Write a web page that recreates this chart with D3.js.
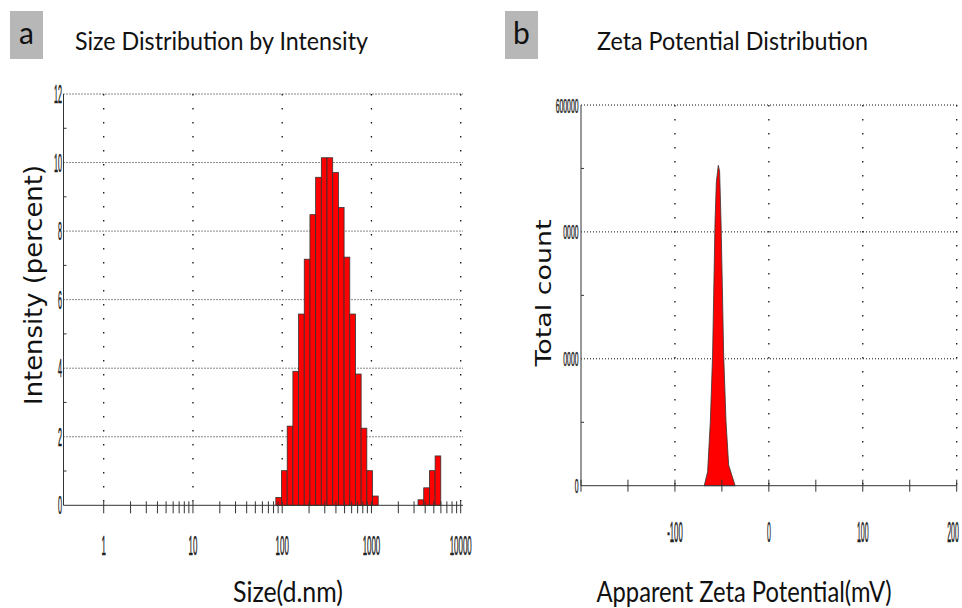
<!DOCTYPE html>
<html>
<head>
<meta charset="utf-8">
<script src="https://cdn.jsdelivr.net/npm/d3@7"></script>
<style>
  body { margin: 0; background: #fff; }
  svg { display: block; }
</style>
</head>
<body>
<svg width="962" height="608"></svg>
<script>
// panel a: size distribution (Malvern bins, d.nm) and intensity (%)
const sizes = [91.28, 105.7, 122.4, 141.8, 164.2, 190.1, 220.2, 255.0, 295.3, 342.0, 396.1,
  458.7, 531.2, 615.1, 712.4, 825.0, 955.4, 1106, 3580, 4145, 4801, 5560];
const intensity = [0.23, 1.01, 2.31, 3.91, 5.58, 7.18, 8.48, 9.57, 10.14, 10.14, 9.71,
  8.69, 7.24, 5.58, 3.83, 2.25, 1.01, 0.27, 0.16, 0.51, 1.01, 1.44];
const sizeTicks = [1, 10, 100, 1000, 10000];
const intensityTicks = [0, 2, 4, 6, 8, 10, 12];

// panel b: zeta potential (mV) and total count
const zetaMv = [-68.8, -65.2, -62.3, -59.9, -57.3, -55.9, -53.8, -52.4, -50.9, -48.1, -45.6, -42.8, -35.9];
const zetaCount = [0, 22000, 101000, 206000, 416000, 479000, 505000, 495000, 416000, 206000, 101000, 32600, 0];
const zetaTicks = [-100, 0, 100, 200];
const countTicks = [0, 200000, 400000, 600000];
const countLabels = ["0", "0000", "0000", "600000"];

const svg = d3.select("svg");
const axisColor = "#333";
const tickFont = "'Liberation Sans Narrow', 'Liberation Sans', sans-serif";
const textFont = "Lato, 'Open Sans', sans-serif";

// squeezed, slightly heavy tick labels like the instrument export.
// the squeeze is a real x-scale so the box of the text stays honest
function tickText(sel, size, charW) {
  sel.attr("font-family", tickFont).attr("font-size", size)
    .attr("fill", "#222").attr("stroke", "#222").attr("stroke-width", 0.5)
    .each(function () {
      const t = d3.select(this);
      const x = +t.attr("x"), y = +t.attr("y");
      const sx = this.textContent.length * charW / this.getComputedTextLength();
      t.attr("x", 0).attr("y", 0)
        .attr("transform", `translate(${x},${y}) scale(${sx},1)`);
    });
}

// ---------- panel a ----------
const xa = d3.scaleLog().domain([0.3544, 10612]).range([63.5, 463]);
const ya = d3.scaleLinear().domain([0, 12]).range([505.3, 94]);
const ga = svg.append("g");

// dotted grid
ga.selectAll(".hgrid").data(intensityTicks.slice(1)).join("line")
  .attr("x1", xa.range()[0]).attr("x2", xa.range()[1])
  .attr("y1", d => ya(d)).attr("y2", d => ya(d))
  .attr("stroke", "#111").attr("stroke-width", 1).attr("stroke-dasharray", "1,2");
ga.selectAll(".vgrid").data(sizeTicks).join("line")
  .attr("x1", d => xa(d)).attr("x2", d => xa(d))
  .attr("y1", ya(12)).attr("y2", ya(0))
  .attr("stroke", "#111").attr("stroke-width", 1.3).attr("stroke-dasharray", "1.5,12.5");

// bars: each bin spans half a log step either side of its size
const step = Math.sqrt(sizes[1] / sizes[0]);
ga.selectAll(".bar").data(sizes).join("rect")
  .attr("x", d => xa(d / step))
  .attr("width", d => xa(d * step) - xa(d / step))
  .attr("y", (d, i) => ya(intensity[i]))
  .attr("height", (d, i) => ya(0) - ya(intensity[i]))
  .attr("fill", "#ff0000").attr("stroke", "#333").attr("stroke-width", 0.8);

// axes lines
ga.append("line").attr("x1", xa.range()[0]).attr("x2", xa.range()[1])
  .attr("y1", ya(0)).attr("y2", ya(0)).attr("stroke", axisColor);
ga.append("line").attr("x1", xa.range()[0]).attr("x2", xa.range()[0])
  .attr("y1", ya(12)).attr("y2", ya(0)).attr("stroke", axisColor);

// x ticks (log, crossing the axis)
const logTicks = xa.ticks().filter(d => d >= 1 && d <= 10000);
ga.selectAll(".xt").data(logTicks).join("line")
  .attr("x1", d => xa(d)).attr("x2", d => xa(d))
  .attr("y1", ya(0) - 4).attr("y2", ya(0) + 8)
  .attr("stroke", axisColor);
ga.selectAll(".xl").data(sizeTicks).join("text")
  .attr("x", d => xa(d)).attr("y", 555)
  .attr("text-anchor", "middle")
  .text(d => d)
  .call(tickText, 27, 4.4);

// y ticks
ga.selectAll(".ym").data(d3.range(1, 12, 2)).join("line")
  .attr("x1", xa.range()[0]).attr("x2", xa.range()[0] + 3)
  .attr("y1", d => ya(d)).attr("y2", d => ya(d)).attr("stroke", axisColor);
ga.selectAll(".yl").data(intensityTicks).join("text")
  .attr("x", 62).attr("y", d => ya(d) + 9)
  .attr("text-anchor", "end")
  .text(d => d)
  .call(tickText, 25, 4);

// ---------- panel b ----------
const xb = d3.scaleLinear().domain([-200, 200]).range([581, 956.7]);
const yb = d3.scaleLinear().domain([0, 600000]).range([485.7, 105]);
const gb = svg.append("g");

gb.selectAll(".hgrid").data(countTicks.slice(1)).join("line")
  .attr("x1", xb.range()[0]).attr("x2", xb.range()[1])
  .attr("y1", d => yb(d)).attr("y2", d => yb(d))
  .attr("stroke", "#111").attr("stroke-width", 1).attr("stroke-dasharray", "1,2");
gb.selectAll(".vgrid").data(zetaTicks).join("line")
  .attr("x1", d => xb(d)).attr("x2", d => xb(d))
  .attr("y1", yb(600000)).attr("y2", yb(0))
  .attr("stroke", "#111").attr("stroke-width", 1.3).attr("stroke-dasharray", "1.5,12.5");

const area = d3.area()
  .x((d, i) => xb(zetaMv[i]))
  .y0(yb(0))
  .y1((d, i) => yb(zetaCount[i]));
gb.append("path").datum(zetaMv).attr("d", area)
  .attr("fill", "#ff0000").attr("stroke", "#333").attr("stroke-width", 0.8);

gb.append("line").attr("x1", xb.range()[0]).attr("x2", xb.range()[1])
  .attr("y1", yb(0)).attr("y2", yb(0)).attr("stroke", axisColor);
gb.append("line").attr("x1", xb.range()[0]).attr("x2", xb.range()[0])
  .attr("y1", yb(600000)).attr("y2", yb(0)).attr("stroke", axisColor);

gb.selectAll(".xt").data(d3.range(-200, 201, 50)).join("line")
  .attr("x1", d => xb(d)).attr("x2", d => xb(d))
  .attr("y1", yb(0) - 6).attr("y2", yb(0) + 6).attr("stroke", axisColor);
gb.selectAll(".xl").data(zetaTicks).join("text")
  .attr("x", d => Math.min(xb(d), 953)).attr("y", 541.5)
  .attr("text-anchor", "middle")
  .text(d => d)
  .call(tickText, 30, 3.9);

gb.selectAll(".ym").data([100000, 300000, 500000]).join("line")
  .attr("x1", xb.range()[0]).attr("x2", xb.range()[0] + 3)
  .attr("y1", d => yb(d)).attr("y2", d => yb(d)).attr("stroke", axisColor);
gb.selectAll(".yl").data(countTicks).join("text")
  .attr("x", 578.5).attr("y", d => yb(d) + 7.5)
  .attr("text-anchor", "end")
  .text((d, i) => countLabels[i])
  .call(tickText, 21, 3.8);

// ---------- titles and labels ----------
function panelTag(x, letter) {
  svg.append("rect").attr("x", x).attr("y", 11).attr("width", 33).attr("height", 48)
    .attr("fill", "#b7b7b7");
  svg.append("text").attr("x", x + 16.5).attr("y", 44).attr("text-anchor", "middle")
    .attr("font-family", textFont).attr("font-size", 30).attr("fill", "#111").text(letter);
}
panelTag(10, "a");
panelTag(505, "b");

function label(x, y, txt, size, len, rotate) {
  svg.append("text")
    .attr("transform", `translate(${x},${y})` + (rotate ? " rotate(-90)" : ""))
    .attr("text-anchor", "middle")
    .attr("font-family", rotate ? "'DejaVu Sans', Verdana, sans-serif" : textFont)
    .attr("font-size", size).attr("fill", "#111")
    .attr("textLength", len).attr("lengthAdjust", "spacingAndGlyphs")
    .text(txt);
}
label(221.5, 50, "Size Distribution by Intensity", 25, 293);
label(732.5, 50, "Zeta Potential Distribution", 25, 271);
label(288, 602, "Size(d.nm)", 28, 110);
label(744, 602, "Apparent Zeta Potential(mV)", 28, 295);
label(42, 285, "Intensity (percent)", 25, 240, true);
label(551, 293, "Total count", 22, 147, true);
</script>
</body>
</html>
